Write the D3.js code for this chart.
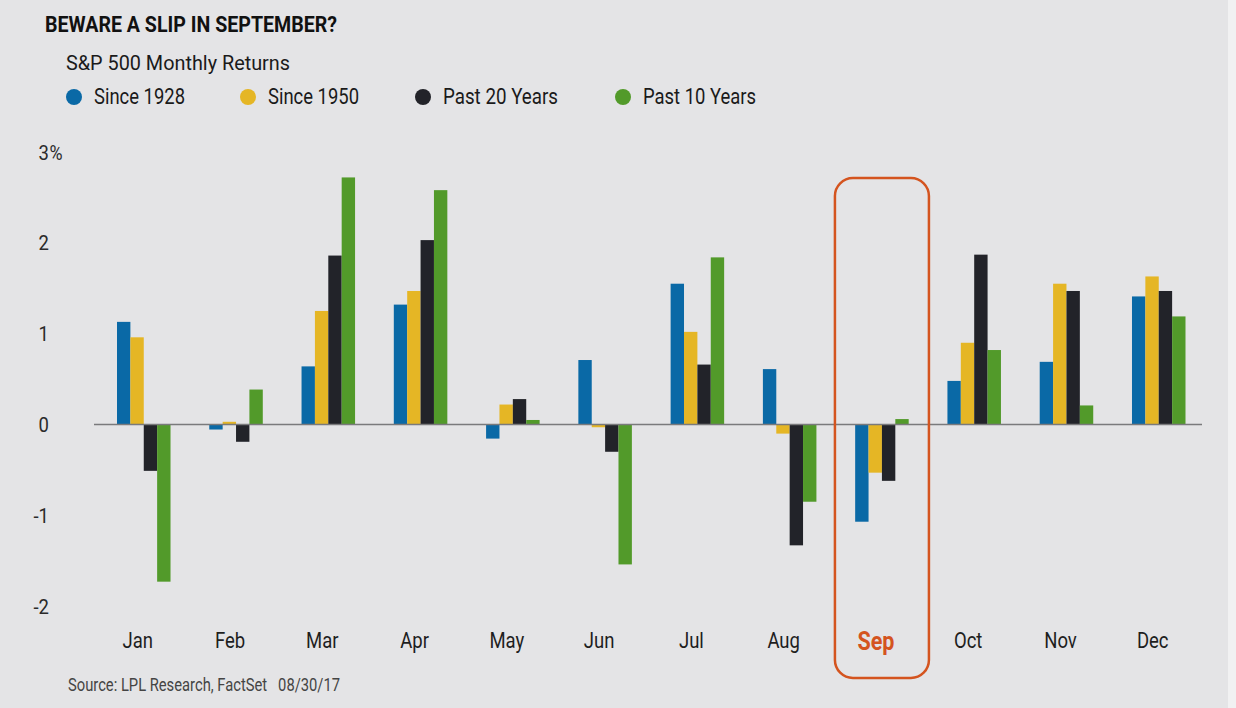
<!DOCTYPE html>
<html><head><meta charset="utf-8">
<script src="https://cdn.jsdelivr.net/npm/d3@7"></script>
<style>
html,body{margin:0;padding:0;background:#e4e4e6;}
svg{display:block;}
text{font-family:Roboto,"Liberation Sans",sans-serif;}
</style></head>
<body><svg id="c" width="1236" height="708"></svg>
<script>
const months = ["Jan","Feb","Mar","Apr","May","Jun","Jul","Aug","Sep","Oct","Nov","Dec"];
const seriesNames = ["Since 1928","Since 1950","Past 20 Years","Past 10 Years"];
const seriesColors = ["#0a69a6","#e5b625","#222329","#529a2a"];
const since1928 = [1.13,-0.055,0.64,1.32,-0.155,0.71,1.55,0.61,-1.07,0.48,0.69,1.41];
const since1950 = [0.96,0.03,1.25,1.47,0.22,-0.03,1.02,-0.10,-0.53,0.90,1.55,1.63];
const past20   = [-0.51,-0.19,1.86,2.03,0.28,-0.30,0.66,-1.33,-0.62,1.87,1.47,1.47];
const past10   = [-1.73,0.385,2.72,2.58,0.05,-1.54,1.84,-0.85,0.06,0.82,0.21,1.19];
const yTicks = [3,2,1,0,-1,-2];
const highlightMonth = "Sep";

const seriesValues = [since1928, since1950, past20, past10];
const rows = [];
months.forEach((m,i)=>seriesValues.forEach((vals,s)=>rows.push({month:m,series:seriesNames[s],value:vals[i],color:seriesColors[s]})));

const svg = d3.select("#c");
svg.append("rect").attr("width",1236).attr("height",708).attr("fill","#e4e4e6");
svg.append("rect").attr("x",1228).attr("width",8).attr("height",708).attr("fill","#f1f1f2");

function fitW(sel, w){ sel.attr("textLength",w).attr("lengthAdjust","spacingAndGlyphs"); return sel; }
function condense(sel, f){ sel.each(function(){ const L=this.getComputedTextLength(); d3.select(this).attr("textLength",L*f).attr("lengthAdjust","spacingAndGlyphs"); }); return sel; }

const x = d3.scaleBand().domain(months).range([117,1185.5]).paddingInner(0.42).paddingOuter(0);
const xs = d3.scaleBand().domain(seriesNames).range([0,x.bandwidth()]);
const y = d3.scaleLinear().domain([-2,3]).range([606.2,152]);

// title
fitW(svg.append("text").attr("x",45).attr("y",31.5).attr("font-size",22).attr("font-weight","bold").attr("fill","#111")
  .text("BEWARE A SLIP IN SEPTEMBER?"), 292);
fitW(svg.append("text").attr("x",66).attr("y",70).attr("font-size",20).attr("fill","#1a1a1a")
  .text("S&P 500 Monthly Returns"), 224);

// legend
const legX = [74,248,423,623];
const legW = [91,91,115,113];
const lg = svg.append("g");
seriesNames.forEach((n,i)=>{
  lg.append("circle").attr("cx",legX[i]).attr("cy",97).attr("r",8).attr("fill",seriesColors[i]);
  fitW(lg.append("text").attr("x",legX[i]+20).attr("y",104).attr("font-size",22).attr("fill","#1a1a1a").text(n), legW[i]);
});

// y tick labels
yTicks.forEach(t=>{
  condense(svg.append("text").attr("x",49).attr("y",y(t)).attr("dy","0.36em").attr("text-anchor","end")
    .attr("font-size",21).attr("fill","#2a2a2a").text(t<0?("-"+Math.abs(t)):t), 0.88);
  if(t===3) condense(svg.append("text").attr("x",49.5).attr("y",y(t)).attr("dy","0.36em").attr("font-size",21).attr("fill","#2a2a2a").text("%"),0.85);
});

// bars
svg.append("g").selectAll("rect").data(rows).join("rect")
  .attr("x",d=>x(d.month)+xs(d.series))
  .attr("width",xs.bandwidth())
  .attr("y",d=>y(Math.max(0,d.value)))
  .attr("height",d=>Math.abs(y(d.value)-y(0)))
  .attr("fill",d=>d.color);

// zero line
svg.append("line").attr("x1",94).attr("x2",1202).attr("y1",y(0)).attr("y2",y(0)).attr("stroke","#7a7a7c").attr("stroke-width",1.5);

// month labels
months.forEach(m=>{
  const hl = m===highlightMonth;
  condense(svg.append("text").attr("x",x(m)+x.bandwidth()/2-6).attr("y",hl?650:648).attr("text-anchor","middle")
    .attr("font-size",hl?25:21.5).attr("font-weight",hl?"bold":"normal").attr("fill",hl?"#d4541f":"#1e1e1e").text(m), 0.86);
});

// highlight box
const cx = x(highlightMonth)+x.bandwidth()/2;
svg.append("rect").attr("x",cx-47).attr("y",178).attr("width",94).attr("height",500).attr("rx",18)
  .attr("fill","none").attr("stroke","#d4541f").attr("stroke-width",2.5);

// source
fitW(svg.append("text").attr("x",68).attr("y",691).attr("font-size",17.5).attr("fill","#444")
  .text("Source: LPL Research, FactSet\u00a0\u00a0\u00a008/30/17"), 272);
</script></body></html>
